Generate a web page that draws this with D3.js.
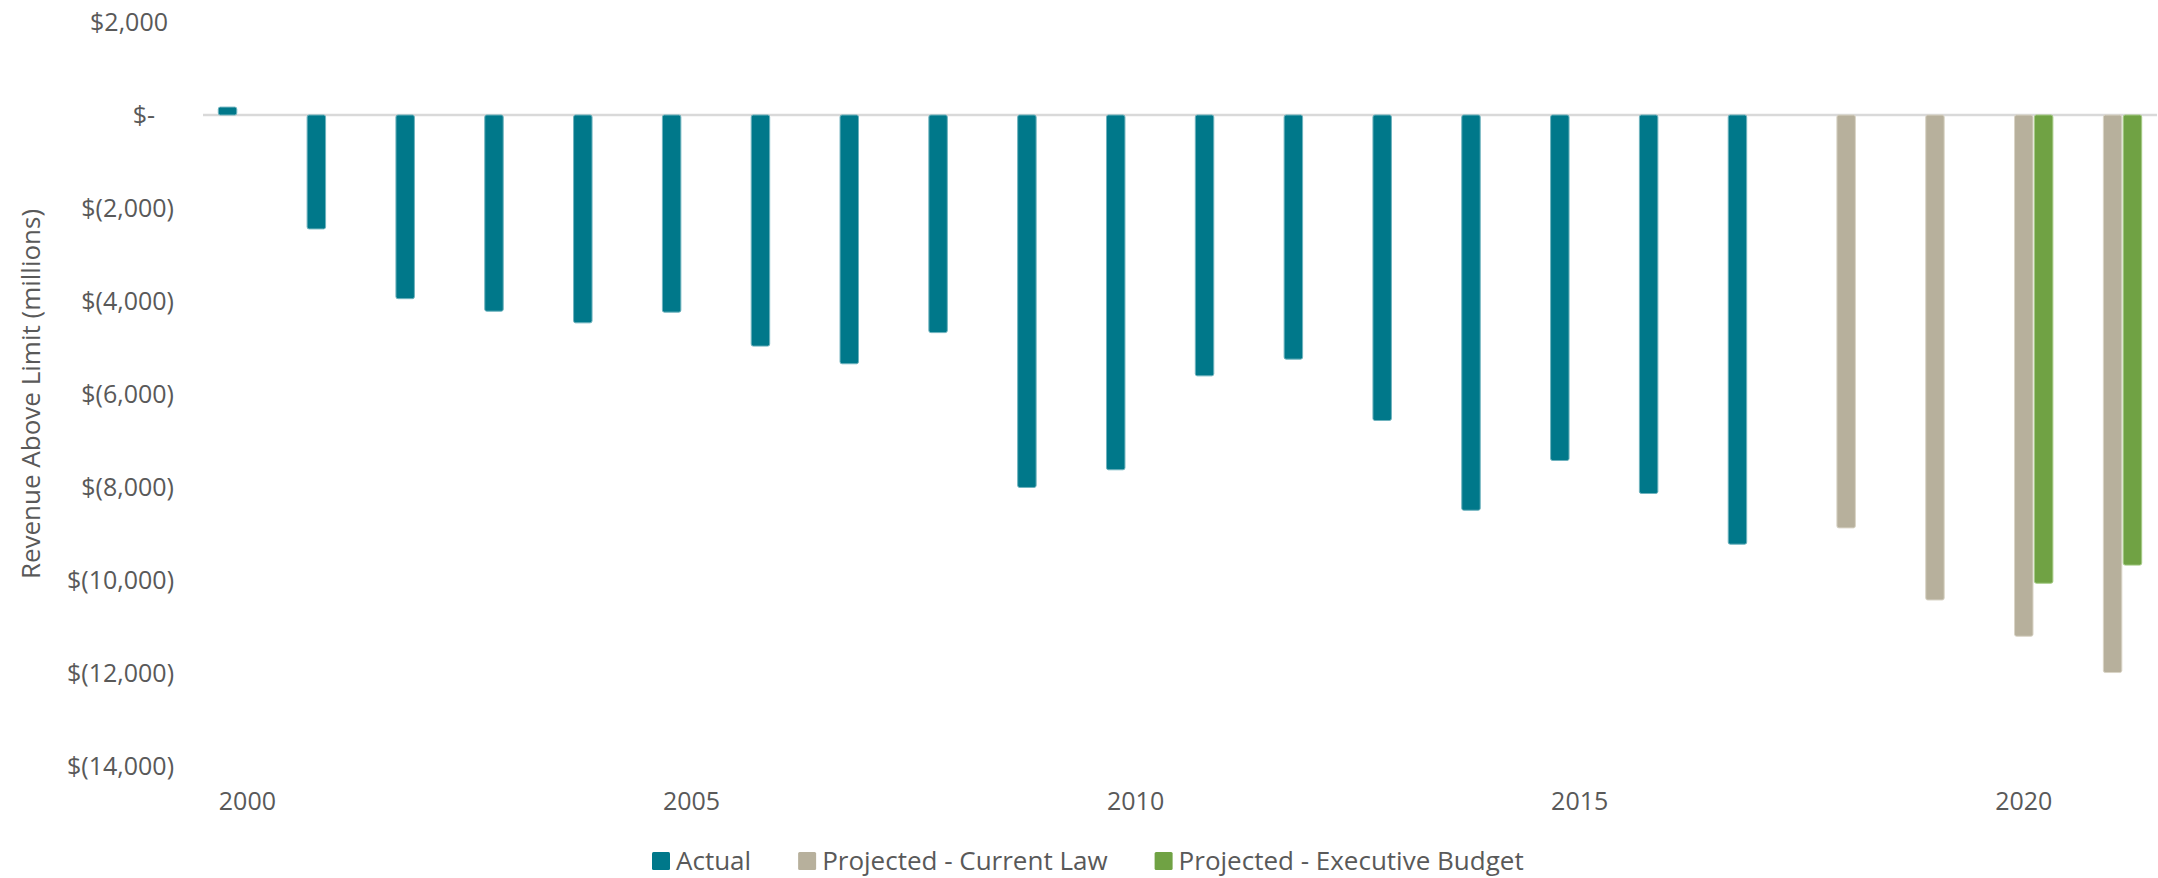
<!DOCTYPE html>
<html>
<head>
<meta charset="utf-8">
<script src="https://cdn.jsdelivr.net/npm/d3@7"></script>
<style>
  html, body { margin: 0; padding: 0; background: #ffffff; }
  svg { display: block; }
  text { font-family: "Open Sans", "Noto Sans", sans-serif; fill: #595959; }
</style>
</head>
<body>
<svg id="chart" width="2158" height="878"></svg>
<script>
// Fiscal years on the category axis
const years = ["2000","2001","2002","2003","2004","2005","2006","2007","2008","2009","2010",
               "2011","2012","2013","2014","2015","2016","2017","2018","2019","2020","2021"];

// Revenue above the limit, $ millions (null = no bar for that year)
const actual = [170, -2450, -3950, -4220, -4470, -4240, -4970, -5350, -4680, -8010, -7630,
                -5610, -5250, -6570, -8500, -7430, -8140, -9230, null, null, null, null];
const currentLaw = [null, null, null, null, null, null, null, null, null, null, null,
                    null, null, null, null, null, null, null, -8880, -10430, -11210, -11990];
const executiveBudget = [null, null, null, null, null, null, null, null, null, null, null,
                         null, null, null, null, null, null, null, null, null, -10070, -9680];

const seriesNames = ["Actual", "Projected - Current Law", "Projected - Executive Budget"];
const seriesValues = [actual, currentLaw, executiveBudget];
const seriesColors = ["#00788a", "#b7b09c", "#70a244"];
const seriesEdges  = ["#6fb3be", "#d9d4c6", "#a6cb86"];

const yTicks = [2000, 0, -2000, -4000, -6000, -8000, -10000, -12000, -14000];
const xTickLabels = ["2000", "2005", "2010", "2015", "2020"];

const svg = d3.select("#chart");

const x = d3.scaleBand()
  .domain(years)
  .range([203, 2157])
  .paddingInner(0.3245)
  .paddingOuter(0.1622);

const xInner = d3.scaleBand()
  .domain(d3.range(seriesNames.length))
  .range([0, x.bandwidth()])
  .padding(0.02);

const y = d3.scaleLinear()
  .domain([-14000, 2000])
  .range([766, 22]);

// Zero baseline
svg.append("line")
  .attr("x1", 203).attr("x2", 2157)
  .attr("y1", y(0)).attr("y2", y(0))
  .attr("stroke", "#d9d9d9")
  .attr("stroke-width", 2.5);

// Bars
const rows = [];
seriesValues.forEach((vals, s) => {
  vals.forEach((v, i) => {
    if (v !== null) rows.push({ year: years[i], s, v });
  });
});

svg.append("g")
  .selectAll("rect")
  .data(rows)
  .join("rect")
  .attr("x", d => x(d.year) + xInner(d.s) + 0.5)
  .attr("width", xInner.bandwidth() - 1)
  .attr("y", d => Math.min(y(d.v), y(0)))
  .attr("height", d => Math.abs(y(d.v) - y(0)))
  .attr("rx", 2)
  .attr("fill", d => seriesColors[d.s])
  .attr("stroke", d => seriesEdges[d.s])
  .attr("stroke-width", 1);

// Y axis in accounting style
const fmtNum = d3.format(",");
function acct(v) {
  if (v === 0) return "$-";
  if (v < 0) return "$(" + fmtNum(-v) + ")";
  return "$" + fmtNum(v);
}
const yAxis = svg.append("g")
  .attr("transform", "translate(174,0)")
  .call(d3.axisLeft(y).tickValues(yTicks).tickFormat(acct).tickSize(0).tickPadding(0));
yAxis.select(".domain").remove();
yAxis.selectAll("text")
  .attr("x", d => d === 0 ? -19 : (d > 0 ? -6 : 0))
  .attr("dy", "0.35em")
  .style("font-size", "25px")
  .style("font-family", "'Open Sans', sans-serif")
  .attr("fill", "#595959");

// X axis labels every five years
const xAxis = svg.append("g")
  .attr("transform", "translate(0,801)")
  .call(d3.axisBottom(x).tickValues(xTickLabels).tickSize(0).tickPadding(0));
xAxis.select(".domain").remove();
xAxis.selectAll("text")
  .attr("y", 0)
  .attr("dy", "0.35em")
  .style("font-size", "25px")
  .style("font-family", "'Open Sans', sans-serif")
  .attr("fill", "#595959");

// Y axis title
svg.append("text")
  .attr("transform", "translate(31,394) rotate(-90)")
  .attr("text-anchor", "middle")
  .attr("dy", "0.35em")
  .style("font-size", "26px")
  .text("Revenue Above Limit (millions)");

// Legend: swatch, label, then a fixed gap before the next entry
const legend = svg.append("g").attr("transform", "translate(652,861)");
let cursor = 0;
seriesNames.forEach((name, s) => {
  const g = legend.append("g").attr("transform", `translate(${cursor},0)`);
  g.append("rect")
    .attr("x", 0).attr("y", -9)
    .attr("width", 18).attr("height", 18)
    .attr("rx", 1.5)
    .attr("fill", seriesColors[s]);
  const t = g.append("text")
    .attr("x", 24)
    .attr("dy", "0.35em")
    .style("font-size", "26px")
    .text(name);
  cursor += 24 + t.node().getComputedTextLength() + 47;
});
</script>
</body>
</html>
